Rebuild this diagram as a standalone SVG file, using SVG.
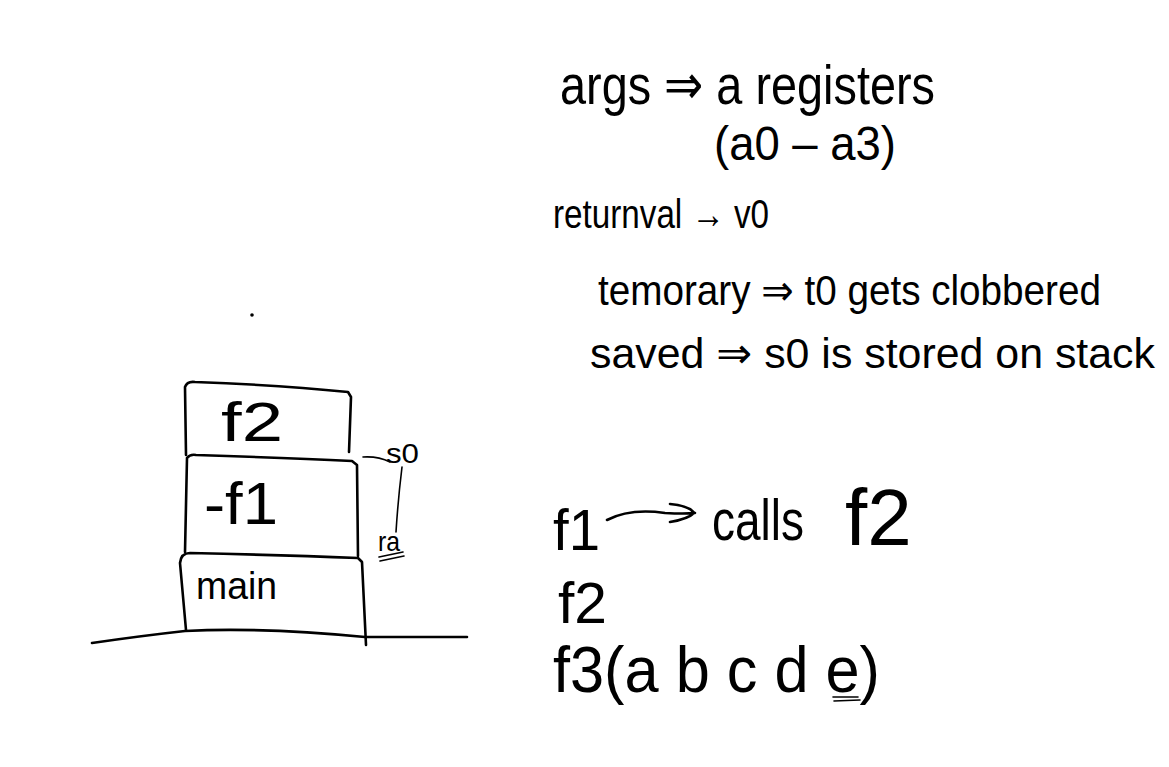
<svg xmlns="http://www.w3.org/2000/svg" width="1169" height="767" viewBox="0 0 1169 767">
<style>
.ink{fill:none;stroke:#000;stroke-width:2.6;stroke-linecap:round;stroke-linejoin:round}
.thin{fill:none;stroke:#000;stroke-width:1.6;stroke-linecap:round}
.hw{font-family:"Liberation Sans","DejaVu Sans",sans-serif;fill:#000;font-weight:normal}
</style>
<rect width="1169" height="767" fill="#fff"/>
<circle cx="252" cy="315" r="1.8" fill="#000"/>
<g id="ground"><path class="ink" d="M92,643 Q140,636 185,631 Q260,627 365,637 Q420,637 467,637"/></g>
<g id="frame-main">
<path class="ink" d="M186,630 L180,563 Q181,553 190,553 Q280,555 358,558 L362,562 L366,645"/>
<text class="hw" x="196" y="599" font-size="38" textLength="81" lengthAdjust="spacingAndGlyphs">main</text>
</g>
<g id="frame-f1">
<path class="ink" d="M185,552 L187,458 Q190,454 196,455 Q290,458 352,461 L357,465 L358,556"/>
<text class="hw" x="204" y="524" font-size="60" textLength="74" lengthAdjust="spacingAndGlyphs">-f1</text>
</g>
<g id="frame-f2">
<path class="ink" d="M186,455 L185,387 Q187,381 195,382 Q280,385 348,392 L351,397 L349,452"/>
<text class="hw" x="221" y="441" font-size="56" textLength="62" lengthAdjust="spacingAndGlyphs">f2</text>
</g>
<g id="connectors">
<path class="thin" d="M363,457 Q378,456 390,462"/>
<path class="thin" d="M402,467 Q398,500 396,532"/>
<path class="thin" d="M379,557 L403,552 M380,561 L404,556"/>
<path class="ink" d="M607,520 Q630,508 665,513 Q685,514 695,513 M670,504 Q690,506 694,513 Q688,519 670,522"/>
</g>
<g id="label-s0"><text class="hw" x="386" y="463" font-size="28" textLength="33" lengthAdjust="spacingAndGlyphs">s0</text></g>
<g id="label-ra"><text class="hw" x="378" y="551" font-size="28" textLength="22" lengthAdjust="spacingAndGlyphs">ra</text></g>
<g id="notes">
<text class="hw" x="560" y="104" font-size="56" textLength="375" lengthAdjust="spacingAndGlyphs">args ⇒ a registers</text>
<text class="hw" x="714" y="160" font-size="48" textLength="182" lengthAdjust="spacingAndGlyphs">(a0 – a3)</text>
<text class="hw" x="553" y="228" font-size="40" textLength="216" lengthAdjust="spacingAndGlyphs">returnval → v0</text>
<text class="hw" x="598" y="305" font-size="42" textLength="503" lengthAdjust="spacingAndGlyphs">temorary ⇒ t0 gets clobbered</text>
<text class="hw" x="590" y="368" font-size="43" textLength="565" lengthAdjust="spacingAndGlyphs">saved ⇒ s0 is stored on stack</text>
</g>
<g id="calls">
<text class="hw" x="553" y="550" font-size="58" textLength="47" lengthAdjust="spacingAndGlyphs">f1</text>
<text class="hw" x="712" y="540" font-size="58" textLength="92" lengthAdjust="spacingAndGlyphs">calls</text>
<text class="hw" x="845" y="545" font-size="80">f2</text>
<text class="hw" x="558" y="623" font-size="58" textLength="49" lengthAdjust="spacingAndGlyphs">f2</text>
<text class="hw" x="553" y="692" font-size="64" textLength="327" lengthAdjust="spacingAndGlyphs">f3(a b c d e)</text>
<path class="thin" d="M833,697 L858,697 M834,701 L860,700"/>
</g>
</svg>
